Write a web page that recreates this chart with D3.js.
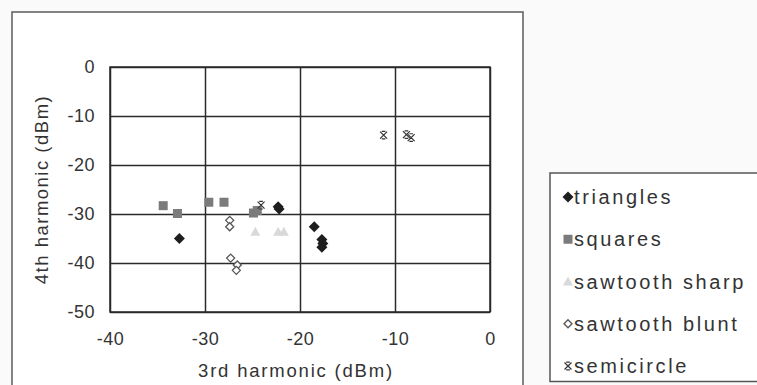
<!DOCTYPE html>
<html>
<head>
<meta charset="utf-8">
<script src="https://cdn.jsdelivr.net/npm/d3@7"></script>
<style>
  html, body { margin: 0; padding: 0; background: #fafafa; }
  svg { display: block; font-family: "Liberation Sans", Arial, sans-serif; }
</style>
</head>
<body>
<svg id="chart" width="757" height="385"></svg>
<script>
// Harmonic levels (dBm) per shape: [3rd harmonic, 4th harmonic]
const triangles = [[-32.7, -35.0], [-22.3, -28.5], [-22.2, -29.0], [-18.5, -32.6], [-17.7, -35.2], [-17.6, -36.0], [-17.7, -36.8]];
const squares = [[-34.4, -28.3], [-32.9, -29.9], [-29.6, -27.6], [-28.0, -27.6], [-24.9, -29.8], [-24.5, -29.3]];
const sawtoothSharp = [[-24.7, -33.6], [-22.3, -33.6], [-21.7, -33.6]];
const sawtoothBlunt = [[-27.4, -31.3], [-27.4, -32.6], [-27.3, -39.0], [-26.6, -40.4], [-26.7, -41.5]];
const semicircle = [[-24.1, -28.2], [-11.2, -13.9], [-8.8, -13.8], [-8.3, -14.4]];

const seriesNames = ["triangles", "squares", "sawtooth sharp", "sawtooth blunt", "semicircle"];
const xTicks = [-40, -30, -20, -10, 0];
const yTicks = [0, -10, -20, -30, -40, -50];
const xTickLabels = ["-40", "-30", "-20", "-10", "0"];
const yTickLabels = ["0", "-10", "-20", "-30", "-40", "-50"];
const xTitle = "3rd harmonic (dBm)";
const yTitle = "4th harmonic (dBm)";

const svg = d3.select("#chart");

const plot = { left: 110, right: 490, top: 67, bottom: 312 };
const x = d3.scaleLinear().domain([-40, 0]).range([plot.left, plot.right]);
const y = d3.scaleLinear().domain([-50, 0]).range([plot.bottom, plot.top]);

// outer chart frame
svg.append("rect")
  .attr("x", 12).attr("y", 12).attr("width", 511).attr("height", 400)
  .attr("fill", "#ffffff").attr("stroke", "#666").attr("stroke-width", 1.6);

// plot area background
svg.append("rect")
  .attr("x", plot.left).attr("y", plot.top)
  .attr("width", plot.right - plot.left).attr("height", plot.bottom - plot.top)
  .attr("fill", "#ffffff");

const gridColor = "#2a2a2a";

// x axis with vertical gridlines
const xAxis = d3.axisBottom(x)
  .tickValues(xTicks)
  .tickSize(-(plot.bottom - plot.top))
  .tickPadding(20)
  .tickFormat((d, i) => xTickLabels[i]);
const gx = svg.append("g")
  .attr("transform", `translate(0,${plot.bottom})`)
  .call(xAxis);
gx.select(".domain").remove();
gx.selectAll("line").attr("stroke", gridColor).attr("stroke-width", 1.5);
gx.selectAll("text")
  .attr("fill", "#333").attr("font-size", 18).attr("letter-spacing", "0.5px")
  .attr("font-family", "'Liberation Sans', Arial, sans-serif");

// y axis with horizontal gridlines
const yAxis = d3.axisLeft(y)
  .tickValues(yTicks)
  .tickSize(-(plot.right - plot.left))
  .tickPadding(15)
  .tickFormat((d, i) => yTickLabels[i]);
const gy = svg.append("g")
  .attr("transform", `translate(${plot.left},0)`)
  .call(yAxis);
gy.select(".domain").remove();
gy.selectAll("line").attr("stroke", gridColor).attr("stroke-width", 1.5);
gy.selectAll("text")
  .attr("fill", "#333").attr("font-size", 18).attr("letter-spacing", "0.5px")
  .attr("font-family", "'Liberation Sans', Arial, sans-serif");

// plot border
svg.append("rect")
  .attr("x", plot.left).attr("y", plot.top)
  .attr("width", plot.right - plot.left).attr("height", plot.bottom - plot.top)
  .attr("fill", "none").attr("stroke", gridColor).attr("stroke-width", 1.5);

// axis titles
svg.append("text")
  .attr("x", (plot.left + plot.right) / 2 - 4).attr("y", 377)
  .attr("text-anchor", "middle")
  .attr("font-size", 18.5).attr("letter-spacing", "1.8px")
  .attr("fill", "#333")
  .text(xTitle);

svg.append("text")
  .attr("transform", `translate(48,${(plot.top + plot.bottom) / 2}) rotate(-90)`)
  .attr("text-anchor", "middle")
  .attr("font-size", 18.5).attr("letter-spacing", "1.5px")
  .attr("fill", "#333")
  .text(yTitle);

// marker painters
const markers = {
  "triangles": (g) => g.append("path")
    .attr("d", "M0,-5.5L5.5,0L0,5.5L-5.5,0Z")
    .attr("fill", "#1e1e1e"),
  "squares": (g) => g.append("rect")
    .attr("x", -4.5).attr("y", -4.5).attr("width", 9).attr("height", 9)
    .attr("fill", "#7b7b7b"),
  "sawtooth sharp": (g) => g.append("path")
    .attr("d", "M0,-5L5,4L-5,4Z")
    .attr("fill", "#d9d9d9"),
  "sawtooth blunt": (g) => g.append("path")
    .attr("d", "M0,-4L4,0L0,4L-4,0Z")
    .attr("fill", "#ffffff").attr("stroke", "#555").attr("stroke-width", 1.3),
  "semicircle": (g) => g.append("path")
    .attr("d", "M-3.5,-3.5L3.5,3.5M3.5,-3.5L-3.5,3.5M-1.8,-3.8H1.8M-1.8,3.8H1.8")
    .attr("fill", "none").attr("stroke", "#333").attr("stroke-width", 1.2)
};

const allSeries = [triangles, squares, sawtoothSharp, sawtoothBlunt, semicircle];
allSeries.forEach((data, si) => {
  const name = seriesNames[si];
  svg.append("g").selectAll("g")
    .data(data)
    .join("g")
    .attr("transform", d => `translate(${x(d[0])},${y(d[1])})`)
    .each(function () { markers[name](d3.select(this)); });
});

// legend
const legend = svg.append("g");
legend.append("rect")
  .attr("x", 550).attr("y", 173).attr("width", 220).attr("height", 208.5)
  .attr("fill", "#ffffff").attr("stroke", "#555").attr("stroke-width", 1.5);

const legendY = d3.scalePoint().domain(seriesNames).range([197, 366]);
seriesNames.forEach(name => {
  const item = legend.append("g")
    .attr("transform", `translate(0,${legendY(name)})`);
  const m = item.append("g").attr("transform", "translate(568,0)");
  markers[name](m);
  item.append("text")
    .attr("x", 574).attr("y", 0).attr("dy", "0.36em")
    .attr("font-size", 20).attr("letter-spacing", "2.6px")
    .attr("fill", "#333")
    .text(name);
});
</script>
</body>
</html>
